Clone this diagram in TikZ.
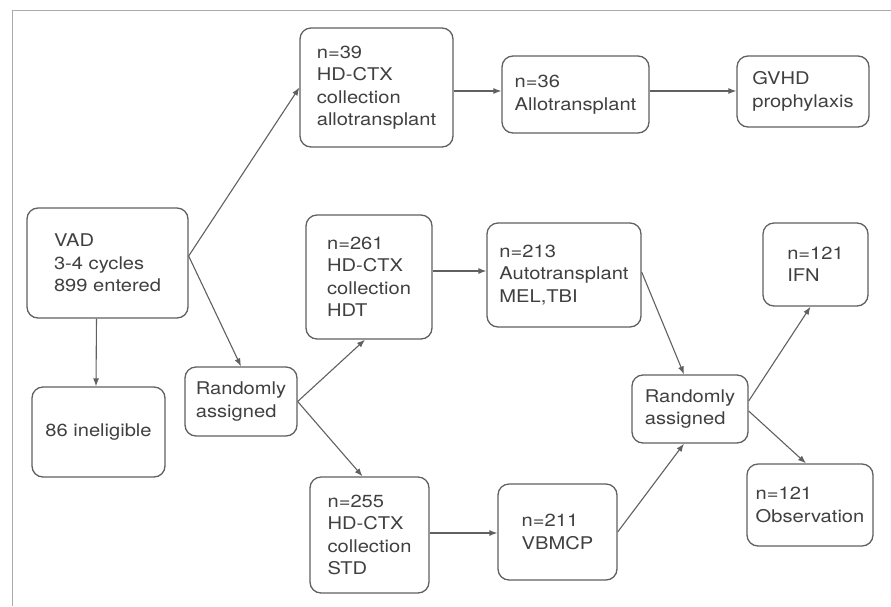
\documentclass[tikz,border=0pt]{standalone}
\usepackage{fontspec}
\setmainfont{TeX Gyre Heros}[FakeStretch=1.15]
\usetikzlibrary{arrows.meta,calc}
\definecolor{txt}{HTML}{404040}
\definecolor{ln}{HTML}{606060}
\definecolor{fr}{HTML}{AAAAAA}
\begin{document}
\begin{tikzpicture}[x=1pt,y=-1pt,
  box/.style={draw=ln, line width=1.3pt, rounded corners=11pt, inner sep=0pt,
    align=left, text=txt, font=\fontsize{17.5}{22.5}\selectfont},
  sz/.style 2 args={minimum width=#1pt, minimum height=#2pt},
  arr/.style={draw=ln, line width=1.1pt, -{Latex[length=8pt,width=6pt]}}]
\useasboundingbox (0,0) rectangle (891,606);
\draw[fr, line width=1pt] (12,606) -- (12,10) -- (891,10);

\node[box, sz={161}{110}] (vad) at (107.5,263) {VAD\\3-4 cycles\\899 entered};
\node[box, sz={133}{90}] (inel) at (98.5,432) {86 ineligible};
\node[box, sz={112}{69}] (rand1) at (241,401.5) {Randomly\\assigned};
\node[box, sz={153}{119}] (n39) at (376.5,87.5) {n=39\\HD-CTX\\collection\\allotransplant};
\node[box, sz={147}{77}] (n36) at (575.5,94.5) {n=36\\Allotransplant};
\node[box, sz={132}{71}] (gvhd) at (803,91.5) {GVHD\\prophylaxis};
\node[box, sz={126}{124}] (n261) at (369,277) {n=261\\HD-CTX\\collection\\HDT};
\node[box, sz={154}{104}] (n213) at (564,275) {n=213\\Autotransplant\\MEL,TBI};
\node[box, sz={116}{68}] (rand2) at (690,409) {Randomly\\assigned};
\node[box, sz={105}{83}] (ifn) at (815.5,264.5) {n=121\\IFN};
\node[box, sz={126}{82}] (obs) at (810,505) {n=121\\Observation};
\node[box, sz={119}{116}] (n255) at (369.5,535) {n=255\\HD-CTX\\collection\\STD};
\node[box, sz={119}{96}] (n211) at (557.5,532) {n=211\\VBMCP};

\coordinate (vs) at ($(vad.east)+(0,-7)$);
\coordinate (ya) at (0,91);
\coordinate (yb) at (0,271);
\coordinate (yc) at (0,533);

\draw[arr] (vs) -- (n39.west);
\draw[arr] (vs) -- (rand1.north);
\draw[arr] ($(vad.south)+(-11,0)$) -- ($(inel.north)+(-2.5,0)$);
\draw[arr] (rand1.east) -- ($(n261.south)+(-4,0)$);
\draw[arr] (rand1.east) -- ($(n255.north)+(-7,0)$);
\draw[arr] (n39.east |- ya) -- (n36.west |- ya);
\draw[arr] (n36.east |- ya) -- (gvhd.west |- ya);
\draw[arr] (n261.east |- yb) -- (n213.west |- yb);
\draw[arr] ($(n213.east)+(0,-3)$) -- ($(rand2.north)+(-6,0)$);
\draw[arr] (n255.east |- yc) -- (n211.west |- yc);
\draw[arr] (n211.east) -- ($(rand2.south)+(-6,0)$);
\draw[arr] ($(rand2.east)+(0,-8)$) -- ($(ifn.south)+(-5,0)$);
\draw[arr] ($(rand2.east)+(0,2)$) -- ($(obs.north)+(-4,0)$);
\end{tikzpicture}
\end{document}
